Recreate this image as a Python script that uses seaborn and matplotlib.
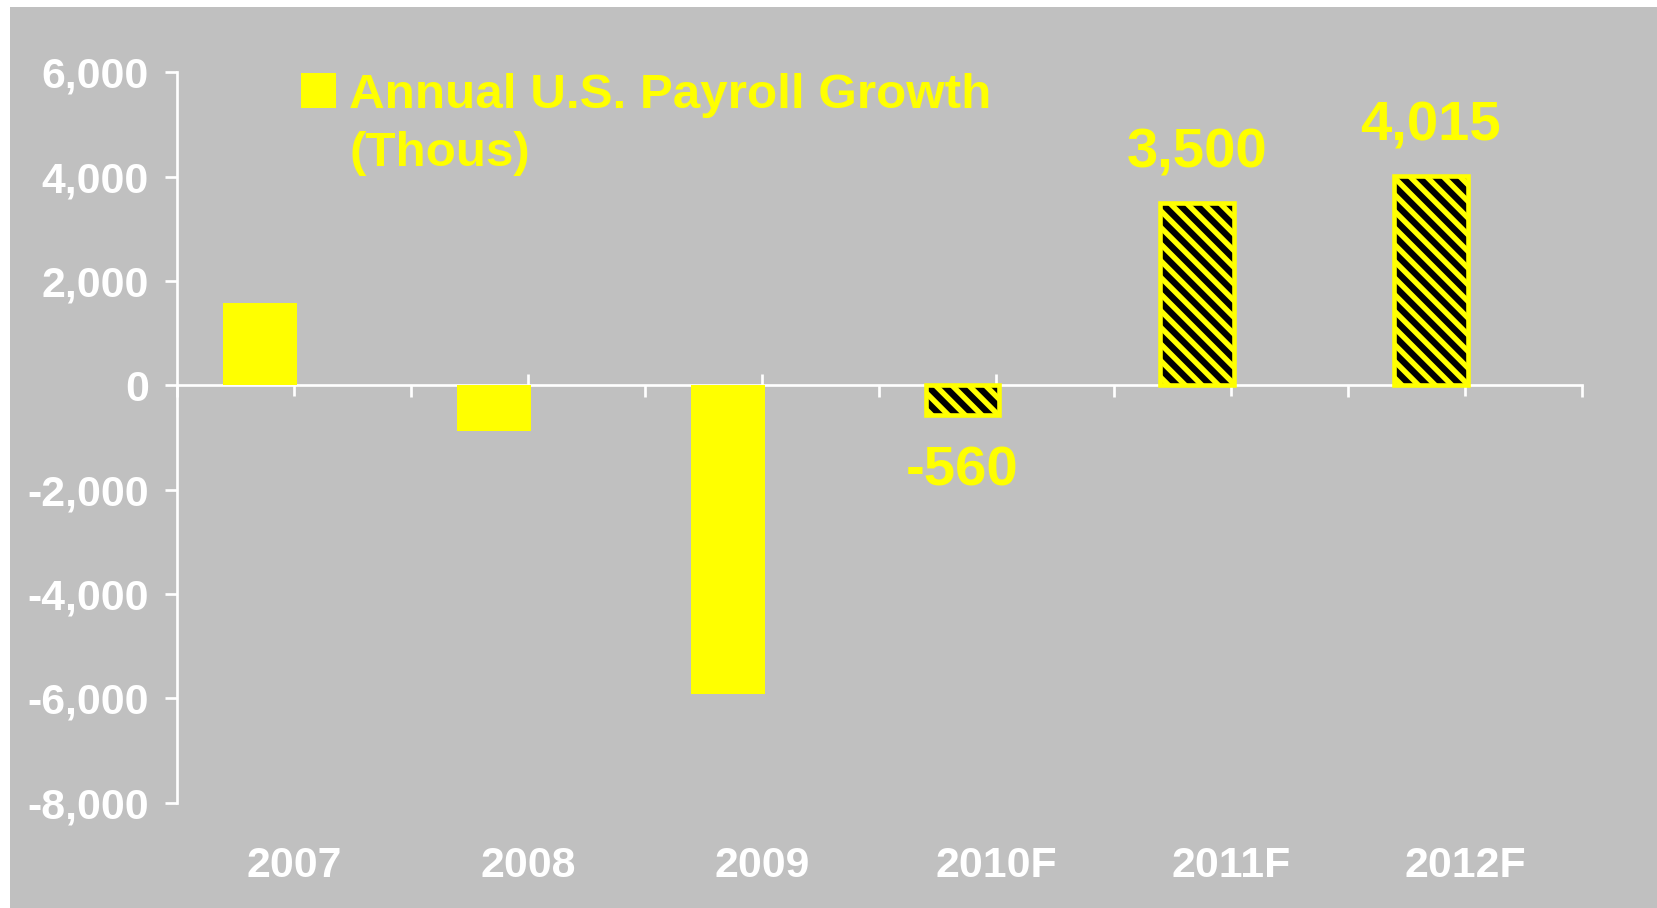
"""
Annual U.S. payroll growth (thousands), actual 2007-2009 and forecasts 2010F-2012F.
Grey slide-style bar chart, forecast bars hatched.
"""
import numpy as np
import pandas as pd
import matplotlib
matplotlib.use("Agg")
import matplotlib.pyplot as plt
from matplotlib.patches import Patch, Rectangle
from matplotlib.ticker import FuncFormatter
import seaborn as sns

# --------------------------------------------------------------------------- #
# Data
# --------------------------------------------------------------------------- #
YEARS = ["2007", "2008", "2009", "2010F", "2011F", "2012F"]
PAYROLL = [1570, -870, -5920, -560, 3500, 4015]
FORECAST = [False, False, False, True, True, True]
SERIES = "Annual U.S. Payroll Growth"
UNIT_LINE = "(Thous)"
YTICKS = [-8000, -6000, -4000, -2000, 0, 2000, 4000, 6000]

GREY = "#C0C0C0"
YELLOW = "#FFFF00"
WHITE = "#FFFFFF"

sns.set_style("white", {"axes.facecolor": GREY, "figure.facecolor": WHITE})
plt.rcParams["font.family"] = ["Liberation Sans", "DejaVu Sans"]
plt.rcParams["font.weight"] = "bold"
plt.rcParams["hatch.linewidth"] = 2.6

df = pd.DataFrame({"year": YEARS, "value": PAYROLL, "series": SERIES})

fig = plt.figure(figsize=(1657 / 150, 908 / 150), dpi=150)
fig.patches.append(Rectangle((10 / 1657, 0), 1, 1 - 7 / 908, transform=fig.transFigure,
                             facecolor=GREY, edgecolor="none", zorder=-10))
ax = fig.add_axes([0.1066, 0.116, 0.8482, 0.8044])
ax.set_facecolor("none")

# empty second hue level mimics the spreadsheet's offset bar position
sns.barplot(data=df, x="year", y="value", hue="series", hue_order=[SERIES, "pad"],
            palette={SERIES: YELLOW, "pad": YELLOW}, order=YEARS, width=0.63,
            dodge=True, errorbar=None, saturation=1, legend=False,
            linewidth=0, ax=ax)

bars = [p for p in ax.patches if isinstance(p, Rectangle)]
for bar, val, fc in zip(bars, PAYROLL, FORECAST):
    bar.set_x(bar.get_x() + 0.012)
    if not fc:
        continue
    bar.set_facecolor("black")
    bar.set_edgecolor(YELLOW)
    bar.set_linewidth(2.2)
    bar.set_hatch("\\\\\\")
    cx = bar.get_x() + bar.get_width() / 2
    ax.annotate(f"{val:,}", xy=(cx, val), xytext=(0, 23.5 if val > 0 else -27.5),
                textcoords="offset points", ha="center", va="center",
                fontsize=27, fontweight="bold", color=YELLOW)

ax.set_ylim(YTICKS[0], YTICKS[-1])
ax.set_yticks(YTICKS)
ax.yaxis.set_major_formatter(FuncFormatter(lambda v, _: f"{v:,.0f}"))
ax.tick_params(axis="y", left=True, colors=WHITE, labelsize=20.5, length=5.8,
               width=1.3, pad=7.5, direction="out")
for lab in ax.get_yticklabels():
    lab.set_fontweight("bold")

ax.set_xlabel("")
ax.set_ylabel("")
ax.tick_params(axis="x", length=0, pad=21, labelsize=20.5, labelcolor=WHITE)
for lab in ax.get_xticklabels():
    lab.set_fontweight("bold")

for side in ["top", "right", "bottom"]:
    ax.spines[side].set_visible(False)
ax.spines["left"].set_color(WHITE)
ax.spines["left"].set_linewidth(1.3)

# category axis line sits at zero
zero_frac = (0 - YTICKS[0]) / (YTICKS[-1] - YTICKS[0])
sec = ax.secondary_xaxis(zero_frac)
sec.set_alignment("bottom")
n = len(YEARS)
sec.set_xticks(np.arange(-0.5, n, 1))
sec.set_xticks(np.arange(n), minor=True)
sec.set_xticklabels([])
sec.tick_params(which="both", bottom=True, top=False, labelbottom=False, colors=WHITE)
sec.tick_params(which="major", direction="out", length=5.8, width=1.3)
sec.tick_params(which="minor", direction="inout", length=11, width=1.3)
sec.spines["bottom"].set_visible(True)
sec.spines["bottom"].set_color(WHITE)
sec.spines["bottom"].set_linewidth(1.3)
for side in ["top", "left", "right"]:
    sec.spines[side].set_visible(False)

handles = [Patch(facecolor=YELLOW, edgecolor="none"), Patch(visible=False)]
leg = fig.legend(handles, [SERIES, UNIT_LINE], loc="upper left",
                 bbox_to_anchor=(301 / 1657, 1 - 72.5 / 908), frameon=False,
                 borderpad=0, borderaxespad=0, handlelength=0.71, handleheight=0.71,
                 handletextpad=0.27, labelspacing=0.27,
                 prop={"family": ["Liberation Sans"], "size": 23.7, "weight": "bold"})
for t in leg.get_texts():
    t.set_color(YELLOW)

fig.savefig("out.png", dpi=150, facecolor=WHITE)
